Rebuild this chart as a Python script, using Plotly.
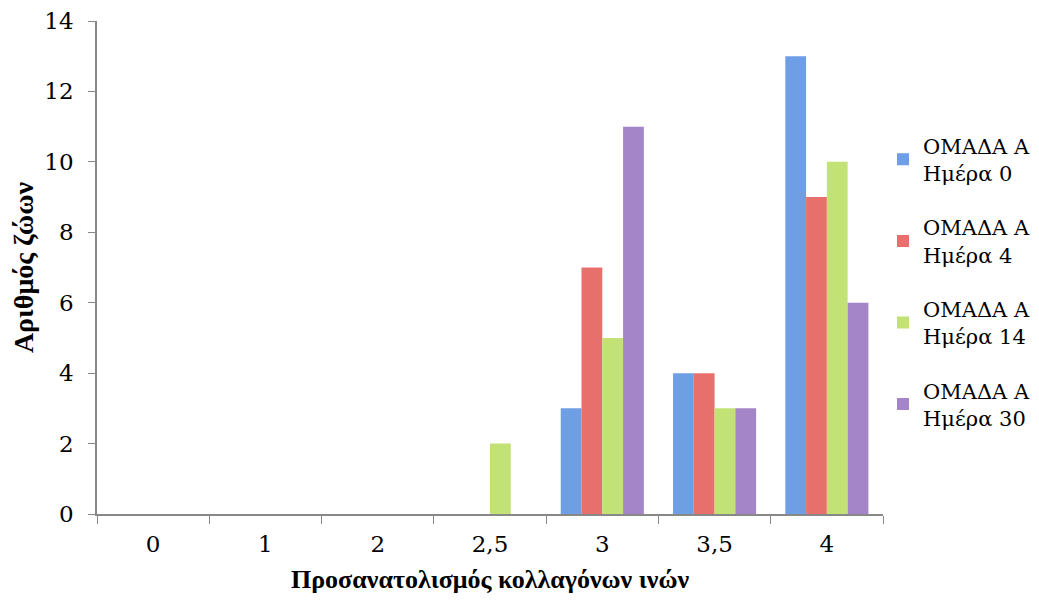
import plotly.graph_objects as go

categories = ["0", "1", "2", "2,5", "3", "3,5", "4"]
day0 = [0, 0, 0, 0, 3, 4, 13]
day4 = [0, 0, 0, 0, 7, 4, 9]
day14 = [0, 0, 0, 2, 5, 3, 10]
day30 = [0, 0, 0, 0, 11, 3, 6]

series_names = ["ΟΜΑΔΑ Α<br>Ημέρα 0", "ΟΜΑΔΑ Α<br>Ημέρα 4", "ΟΜΑΔΑ Α<br>Ημέρα 14", "ΟΜΑΔΑ Α<br>Ημέρα 30"]
series_vals = [day0, day4, day14, day30]
colors = ["#6E9EE4", "#E8706C", "#C2E275", "#A385C8"]

fig = go.Figure()
for i, (name, vals, col) in enumerate(zip(series_names, series_vals, colors)):
    fig.add_trace(go.Bar(x=categories, y=vals, name=name, legendgroup=f"g{i}",
                         marker=dict(color=col, line=dict(width=0))))

serif = "Liberation Serif"
reg = "DejaVu Serif"
fig.update_layout(
    width=1031, height=596,
    paper_bgcolor="white", plot_bgcolor="white",
    margin=dict(l=89, r=156, t=13, b=90, autoexpand=False),
    barmode="group", bargap=0.26, bargroupgap=0,
    font=dict(family=reg, color="#000"),
    legend=dict(x=1.0, y=0.788, yanchor="top", xanchor="left",
                font=dict(family=reg, size=21), tracegroupgap=24,
                itemwidth=30),
    xaxis=dict(title=dict(text="<b>Προσανατολισμός κολλαγόνων ινών</b>",
                          font=dict(family=serif, size=26), standoff=13),
               automargin=False,
               showline=True, linecolor="#888", linewidth=1.5,
               ticks="outside", ticklen=8, tickcolor="#888", tickson="boundaries",
               ticklabelstandoff=9,
               tickfont=dict(family=reg, size=23), showgrid=False),
    yaxis=dict(title=dict(text="<b>Αριθμός ζώων</b>",
                          font=dict(family=serif, size=28), standoff=4),
               automargin=False,
               range=[0, 14], dtick=2,
               showline=True, linecolor="#888", linewidth=1.5,
               ticks="outside", ticklen=7, tickcolor="#888",
               ticklabelstandoff=10, ticklabeloverflow="allow",
               tickfont=dict(family=reg, size=23), showgrid=False, zeroline=False),
    showlegend=True,
)
fig.write_html("out.html")
